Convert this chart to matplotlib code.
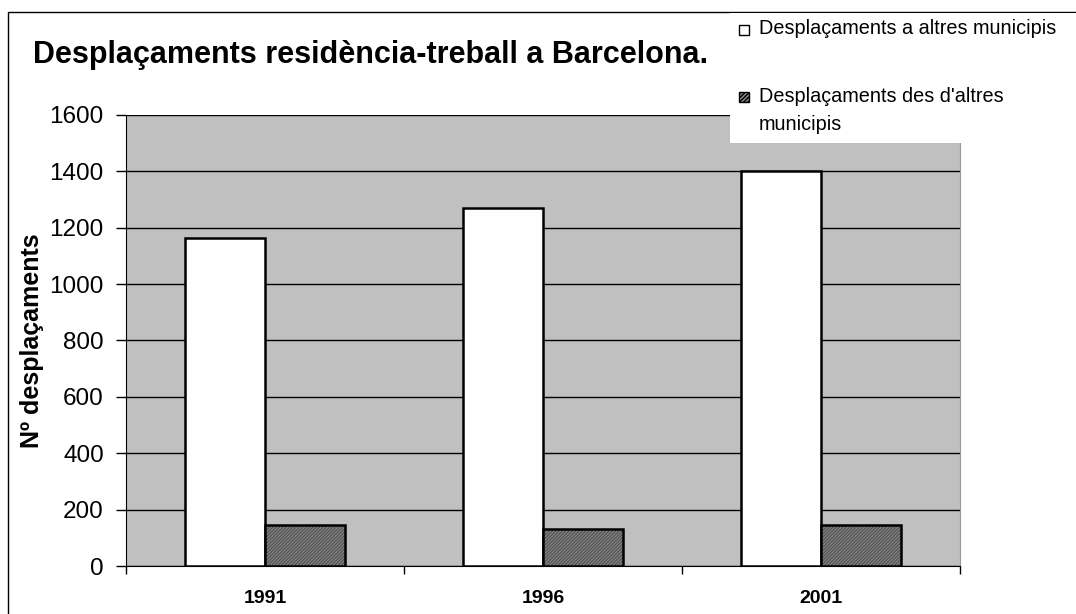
import matplotlib
matplotlib.use("Agg")
import matplotlib.pyplot as plt
from matplotlib.patches import Rectangle
import numpy as np

years = ["1991", "1996", "2001"]
cap_altres = [1162, 1269, 1401]
des_altres = [146, 132, 147]
series_names = ["Desplaçaments a altres municipis", "Desplaçaments des d'altres\nmunicipis"]
title = "Desplaçaments residència-treball a Barcelona."
ylabel = "Nº desplaçaments"
yticks = [0, 200, 400, 600, 800, 1000, 1200, 1400, 1600]

plt.rcParams['font.family'] = ['Liberation Sans', 'DejaVu Sans']

W, H = 1076, 614
fig = plt.figure(figsize=(W/100, H/100), dpi=100)

def fx(px): return px / W
def fy(py): return 1 - py / H

ax = fig.add_axes([fx(126), fy(566.3), fx(960) - fx(126), fy(114.7) - fy(566.3)])
ax.set_facecolor('#C0C0C0')
x = np.arange(len(years))
bw = 0.287
ax.bar(x - bw/2, cap_altres, bw, color='white', edgecolor='black', linewidth=1.8, zorder=3)
ax.bar(x + bw/2, des_altres, bw, color='#8a8a8a', edgecolor='#555555', hatch='//////////', linewidth=0, zorder=3)
ax.bar(x + bw/2, des_altres, bw, color='none', edgecolor='black', linewidth=1.8, zorder=4)

ax.set_xlim(-0.5, 2.5)
ax.set_ylim(0, 1600)
ax.set_yticks(yticks)
ax.set_yticklabels([str(v) for v in yticks], fontsize=17.5)
ax.yaxis.grid(True, color='black', linewidth=1.0, zorder=1)
ax.set_axisbelow(True)
ax.set_xticks(x)
ax.set_xticklabels(years, fontsize=14, fontweight='bold')
ax.tick_params(axis='x', which='major', length=0, pad=17)
ax.set_xticks([-0.5, 0.5, 1.5, 2.5], minor=True)
ax.tick_params(axis='x', which='minor', length=6, width=1, color='black', direction='out')
ax.tick_params(axis='y', length=7, width=1, direction='out', pad=9)
ax.spines['top'].set_visible(False)
ax.spines['right'].set_color('#999999')
ax.spines['left'].set_color('black')
ax.spines['bottom'].set_color('black')
ax.set_ylabel(ylabel, fontsize=18, fontweight='bold', labelpad=4)

# figure border
fig.patches.append(Rectangle((fx(8), fy(H + 20)), fx(W + 20), fy(12) - fy(H + 20),
                             transform=fig.transFigure, fill=False, edgecolor='black', linewidth=1.0))

fig.text(fx(33), fy(55), title, fontsize=22, fontweight='bold', va='center', ha='left')

# legend
fig.patches.append(Rectangle((fx(730), fy(143)), fx(W) - fx(730), fy(13) - fy(143),
                             transform=fig.transFigure, facecolor='white', edgecolor='none', zorder=5))
fig.patches.append(Rectangle((fx(739), fy(35)), fx(10), fy(25) - fy(35), transform=fig.transFigure,
                             facecolor='white', edgecolor='black', linewidth=1.0, zorder=6))
fig.patches.append(Rectangle((fx(739), fy(102)), fx(10), fy(92) - fy(102), transform=fig.transFigure,
                             facecolor='#8a8a8a', edgecolor='black', hatch='////////', linewidth=1.0, zorder=6))
fig.text(fx(759), fy(29), series_names[0], fontsize=14.3, va='center', ha='left', zorder=7)
fig.text(fx(759), fy(97), series_names[1].split("\n")[0], fontsize=14.3, va='center', ha='left', zorder=7)
fig.text(fx(759), fy(124), series_names[1].split("\n")[1], fontsize=14.3, va='center', ha='left', zorder=7)

fig.savefig("out.png", dpi=100)
